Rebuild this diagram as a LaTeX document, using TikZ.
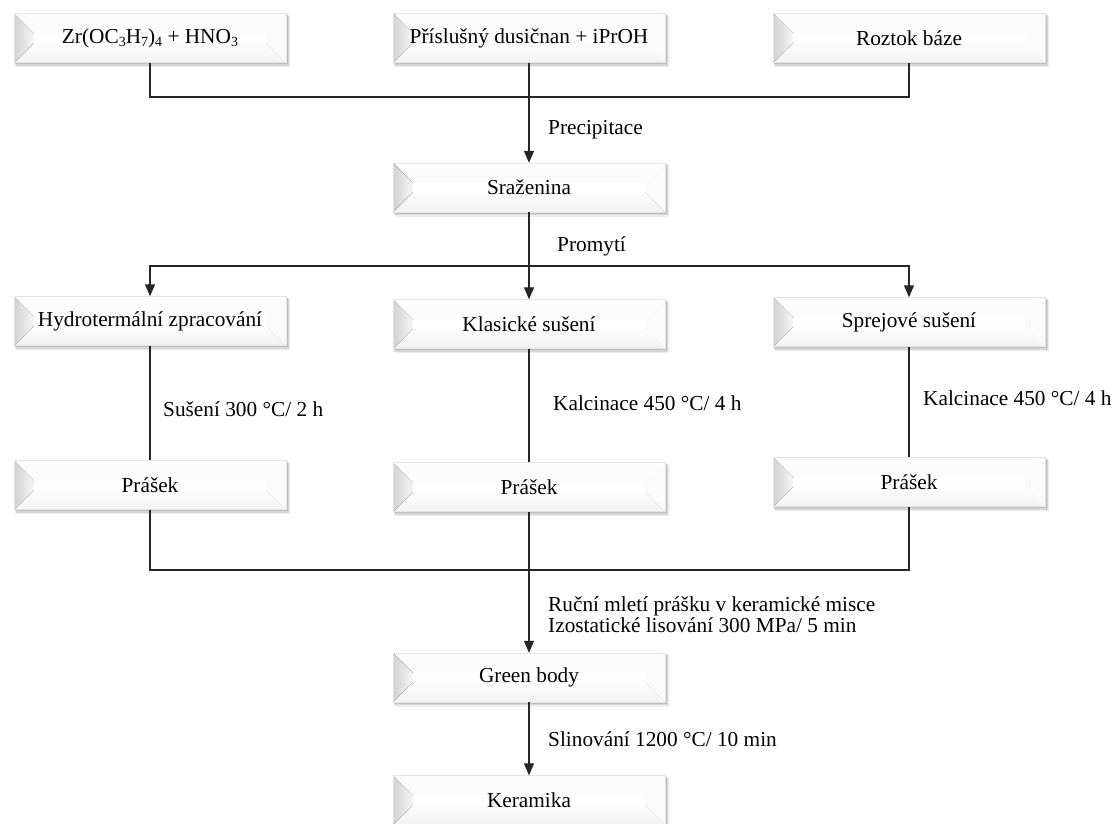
\documentclass[tikz,border=0pt]{standalone}
\usepackage{fontspec}
\setmainfont{Liberation Serif}
\usetikzlibrary{arrows.meta}
\newcommand\sbs[1]{\raisebox{-0.18em}{\fontsize{14}{14}\selectfont #1}}
\tikzset{
  conn/.style={draw=black!85, line width=1.2pt},
  arr/.style={conn, -{Triangle[length=12pt,width=10pt]}},
  boxtext/.style={rectangle, minimum width=272pt, minimum height=49pt, inner sep=0pt, draw=none,
    font=\fontsize{21.3}{21}\selectfont, text=black},
  lbl/.style={anchor=west, inner sep=0pt, font=\fontsize{21.3}{21}\selectfont, text=black, align=left},
}
\newcommand\bevbox[4]{%
  \begin{scope}[shift={(#2,#3)}]
    \fill[black, opacity=0.07] (-134,-22.5) rectangle (140,29);
    \fill[black, opacity=0.10] (-135,-23.5) rectangle (138.5,27.5);
    \fill[black, opacity=0.10] (-135.5,-24) rectangle (137.5,26.3);
    \fill[white] (-136,-24.5) rectangle (136,24.5);
    \fill[gray!2] (-136,-24.5) -- (136,-24.5) -- (116,-4.5) -- (-116,-4.5) -- cycle;
    \fill[top color=gray!2, bottom color=gray!10] (-136,24.5) -- (136,24.5) -- (116,4.5) -- (-116,4.5) -- cycle;
    \fill[left color=gray!36, right color=gray!7] (-136,-24.5) -- (-116,-4.5) -- (-116,4.5) -- (-136,24.5) -- cycle;
    \fill[gray!4] (136,-24.5) -- (136,24.5) -- (116,4.5) -- (116,-4.5) -- cycle;
    \fill[white] (-116,-4.5) rectangle (116,4.5);
    \draw[gray!20, line width=0.5pt] (-136,-24.5) rectangle (136,24.5);
  \end{scope}
  \node[boxtext] (#1) at (#2,#3) {#4};
}
\begin{document}
\begin{tikzpicture}[x=1pt,y=-1pt]
\useasboundingbox (0,0) rectangle (1115,823);
\begin{scope}
\clip (0,0) rectangle (1115,823);
% row 1
\bevbox{A}{150}{38}{Zr(OC\sbs{3}H\sbs{7})\sbs{4} + HNO\sbs{3}}
\bevbox{B}{529}{38}{Příslušný dusičnan + iPrOH}
\bevbox{C}{909}{38}{Roztok báze}
% row 2
\bevbox{S}{529}{187.5}{Sraženina}
% row 3
\bevbox{H}{150}{321}{Hydrotermální zpracování}
\bevbox{K}{529}{324}{Klasické sušení}
\bevbox{Sp}{909}{322}{Sprejové sušení}
% row 4
\bevbox{P1}{150}{485}{Prášek}
\bevbox{P2}{529}{487}{Prášek}
\bevbox{P3}{909}{482}{Prášek}
% row 5
\bevbox{G}{529}{677.5}{Green body}
\bevbox{Ke}{529}{800}{Keramika}
\end{scope}
% junctions
\coordinate (bus1) at (529,97);
\coordinate (bus2) at (529,266);
\coordinate (bus3) at (529,570);
% connectors
\draw[conn] (A.south) |- (bus1) -| (C.south);
\draw[arr] (B.south) -- (S.north);
\draw[arr] (S.south) -- (K.north);
\draw[arr] (bus2) -| (H.north);
\draw[arr] (bus2) -| (Sp.north);
\draw[conn] (H.south) -- (P1.north);
\draw[conn] (K.south) -- (P2.north);
\draw[conn] (Sp.south) -- (P3.north);
\draw[conn] (P1.south) |- (bus3) -| (P3.south);
\draw[arr] (P2.south) -- (G.north);
\draw[arr] (G.south) -- (Ke.north);
% labels
\node[lbl] (l1) at (548,130) {Precipitace};
\node[lbl] (l2) at (557,246) {Promytí};
\node[lbl] (l3) at (163,409) {Sušení 300 °C/ 2 h};
\node[lbl] (l4) at (553,403) {Kalcinace 450 °C/ 4 h};
\node[lbl] (l5) at (923,398) {Kalcinace 450 °C/ 4 h};
\node[lbl] (l6) at (548,615) {Ruční mletí prášku v keramické misce\\Izostatické lisování 300 MPa/ 5 min};
\node[lbl] (l7) at (548,739) {Slinování 1200 °C/ 10 min};
\end{tikzpicture}
\end{document}
